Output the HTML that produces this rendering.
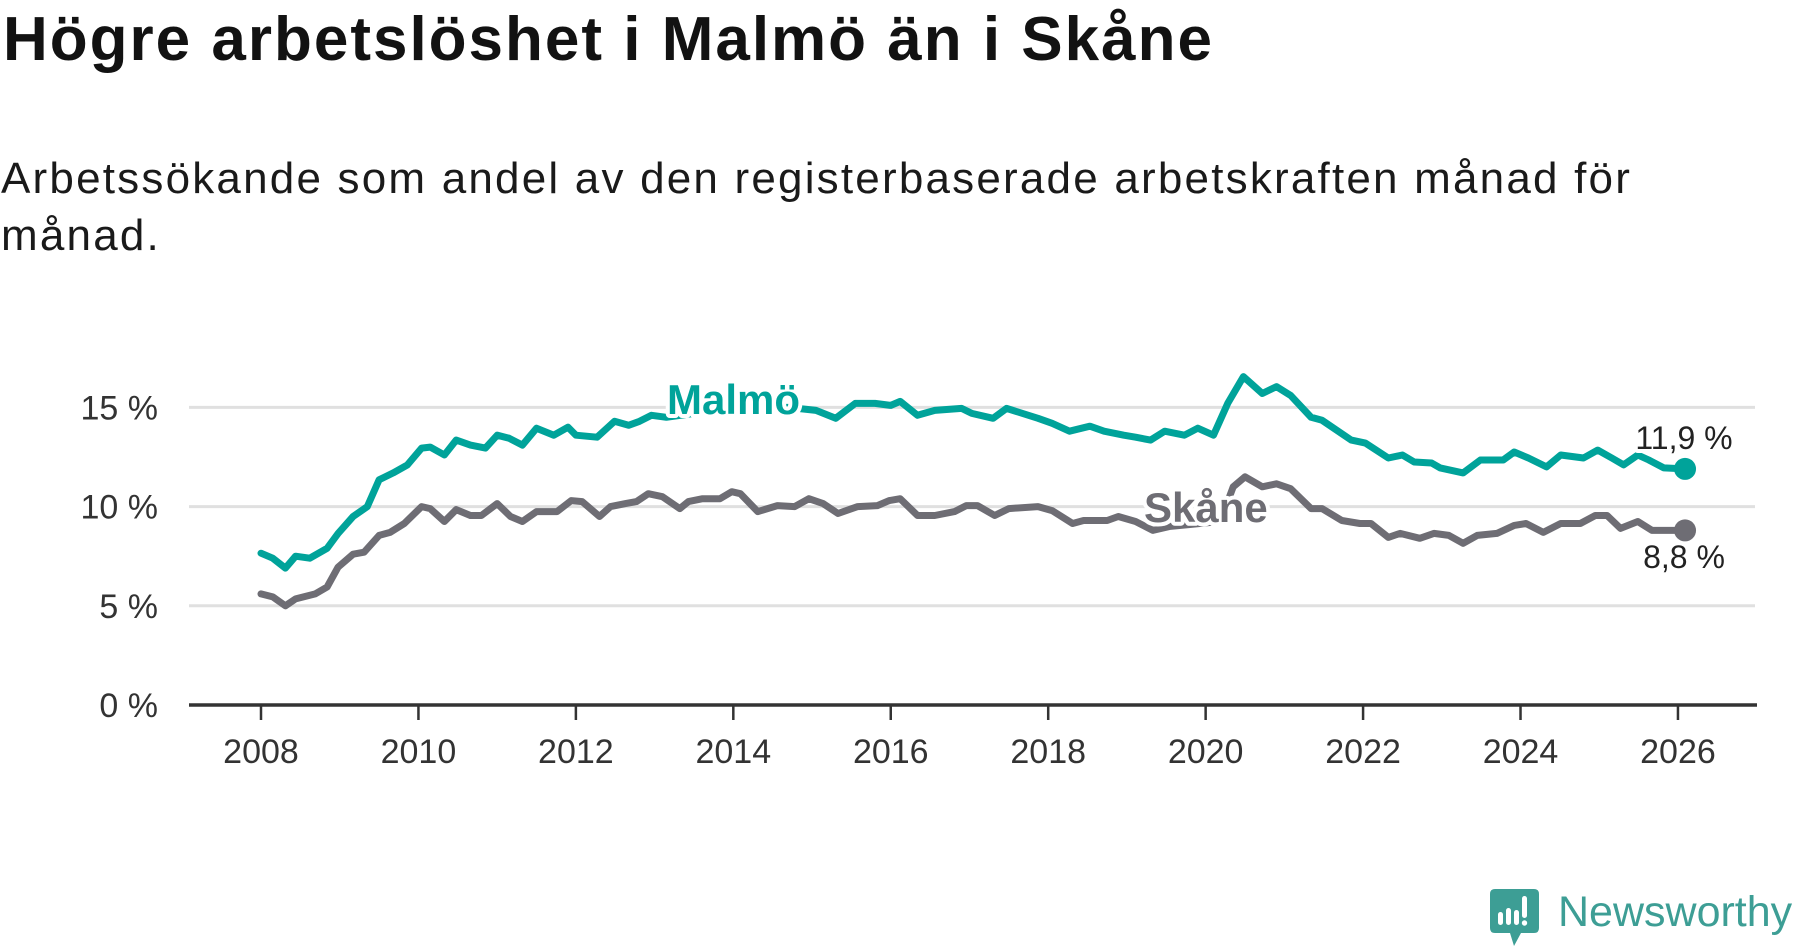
<!DOCTYPE html>
<html><head><meta charset="utf-8">
<style>
html,body{margin:0;padding:0;background:#fff;}
body{width:1800px;height:948px;position:relative;overflow:hidden;font-family:"Liberation Sans",sans-serif;}
#title{position:absolute;left:3px;top:4px;margin:0;font-size:62px;font-weight:bold;color:#121212;letter-spacing:2px;white-space:nowrap;}
#subtitle{position:absolute;left:1px;top:150px;width:1760px;margin:0;font-size:44px;line-height:57px;color:#1a1a1a;letter-spacing:2.2px;}
svg{position:absolute;left:0;top:0;}
</style></head><body>
<h1 id="title">Högre arbetslöshet i Malmö än i Skåne</h1>
<p id="subtitle">Arbetssökande som andel av den registerbaserade arbetskraften månad för<br>månad.</p>
<svg id="chart" width="1800" height="948"></svg>
<script>
const yTicks=[0,5,10,15];
const xTicks=[2008,2010,2012,2014,2016,2018,2020,2022,2024,2026];
const malmoYears=[2008.0,2008.15,2008.31,2008.44,2008.62,2008.84,2008.98,2009.17,2009.35,2009.5,2009.68,2009.86,2010.04,2010.15,2010.33,2010.48,2010.66,2010.85,2011.0,2011.15,2011.32,2011.5,2011.72,2011.9,2012.0,2012.27,2012.49,2012.67,2012.81,2012.96,2013.15,2013.5,2013.9,2014.3,2014.7,2015.05,2015.3,2015.55,2015.8,2016.0,2016.12,2016.34,2016.56,2016.9,2017.03,2017.3,2017.47,2017.87,2018.05,2018.27,2018.53,2018.71,2018.96,2019.11,2019.3,2019.48,2019.73,2019.9,2020.1,2020.28,2020.48,2020.72,2020.9,2021.08,2021.34,2021.48,2021.85,2022.03,2022.32,2022.5,2022.65,2022.87,2022.98,2023.27,2023.49,2023.78,2023.92,2024.1,2024.33,2024.51,2024.8,2024.98,2025.16,2025.31,2025.49,2025.63,2025.82,2026.09];
const malmoValues=[7.65,7.4,6.9,7.5,7.4,7.9,8.65,9.5,10.0,11.35,11.7,12.1,12.95,13.0,12.6,13.35,13.1,12.95,13.6,13.45,13.1,13.95,13.6,14.0,13.6,13.5,14.3,14.1,14.3,14.6,14.5,14.7,14.9,15.0,15.0,14.85,14.45,15.2,15.2,15.1,15.3,14.6,14.85,14.95,14.7,14.45,14.95,14.45,14.2,13.8,14.05,13.8,13.6,13.5,13.35,13.8,13.6,13.95,13.6,15.2,16.55,15.7,16.05,15.6,14.5,14.35,13.35,13.2,12.45,12.6,12.25,12.2,11.95,11.7,12.35,12.35,12.75,12.45,12.0,12.6,12.45,12.85,12.45,12.1,12.6,12.35,11.95,11.9];
const skaneYears=[2008.0,2008.15,2008.31,2008.44,2008.69,2008.84,2008.98,2009.17,2009.31,2009.5,2009.64,2009.82,2010.04,2010.15,2010.33,2010.48,2010.66,2010.8,2011.0,2011.17,2011.32,2011.5,2011.76,2011.94,2012.08,2012.3,2012.44,2012.63,2012.77,2012.92,2013.1,2013.32,2013.43,2013.61,2013.83,2013.98,2014.09,2014.31,2014.56,2014.78,2014.96,2015.14,2015.33,2015.58,2015.83,2015.98,2016.12,2016.34,2016.56,2016.81,2016.96,2017.1,2017.32,2017.5,2017.87,2018.05,2018.31,2018.45,2018.75,2018.89,2019.11,2019.33,2019.55,2019.8,2020.05,2020.2,2020.35,2020.5,2020.72,2020.9,2021.08,2021.34,2021.48,2021.73,2021.96,2022.1,2022.32,2022.47,2022.72,2022.9,2023.09,2023.27,2023.45,2023.7,2023.92,2024.07,2024.29,2024.51,2024.76,2024.95,2025.1,2025.27,2025.49,2025.67,2025.89,2026.09];
const skaneValues=[5.6,5.45,5.0,5.35,5.6,5.95,6.95,7.6,7.7,8.55,8.7,9.15,10.0,9.9,9.25,9.85,9.55,9.55,10.15,9.5,9.25,9.75,9.75,10.3,10.25,9.5,10.0,10.15,10.25,10.65,10.5,9.9,10.25,10.4,10.4,10.75,10.65,9.75,10.05,10.0,10.4,10.15,9.65,10.0,10.05,10.3,10.4,9.55,9.55,9.75,10.05,10.05,9.55,9.9,10.0,9.8,9.15,9.3,9.3,9.5,9.25,8.8,9.0,9.1,9.2,9.4,11.0,11.5,11.0,11.15,10.9,9.9,9.9,9.3,9.15,9.15,8.45,8.65,8.4,8.65,8.55,8.15,8.55,8.65,9.05,9.15,8.7,9.15,9.15,9.55,9.55,8.9,9.25,8.8,8.8,8.8];
const lastMalmo="11,9 %", lastSkane="8,8 %";

const NS="http://www.w3.org/2000/svg";
const svg=document.getElementById('chart');
const X=y=>261+(y-2008)*78.72;
const Y=v=>705-v*19.84;
function mk(tag,attrs,parent){const e=document.createElementNS(NS,tag);for(const k in attrs)e.setAttribute(k,attrs[k]);(parent||svg).appendChild(e);return e;}
const teal="#00a39a", gray="#6e6d74";

yTicks.forEach(t=>{
  if(t>0){
    const g=mk('line',{x1:189,x2:1755,y1:Y(t),y2:Y(t),stroke:'#e0e0e0','stroke-width':3});
    
    
  }
  const l=mk('text',{x:158,y:Y(t)+12,'text-anchor':'end','font-size':34,fill:'#333','font-family':'Liberation Sans, sans-serif'});
  l.textContent=t+' %';
  
  
});
const ax=mk('line',{x1:189,x2:1757,y1:705,y2:705,stroke:'#333','stroke-width':3.5});


xTicks.forEach(t=>{
  const tk=mk('line',{x1:X(t),x2:X(t),y1:705,y2:720,stroke:'#333','stroke-width':2.5});
  
  
  const l=mk('text',{x:X(t),y:763,'text-anchor':'middle','font-size':34,fill:'#333','font-family':'Liberation Sans, sans-serif'});
  l.textContent=t;
  
  
});
function line(years,vals,color,name){
  const d=years.map((y,i)=>(i?'L':'M')+X(y).toFixed(1)+' '+Y(vals[i]).toFixed(1)).join(' ');
  const p=mk('path',{d:d,fill:'none',stroke:color,'stroke-width':7,'stroke-linejoin':'round','stroke-linecap':'round'});
  
  
  const n=years.length-1;
  const c=mk('circle',{cx:X(years[n]),cy:Y(vals[n]),r:11,fill:color});
  
  
}
line(skaneYears,skaneValues,gray,'skane');
line(malmoYears,malmoValues,teal,'malmo');
function label(txt,x,y,color,size,weight,name,anchor){
  const t=mk('text',{x:x,y:y,'font-size':size,'font-weight':weight,fill:color,stroke:'#fff','stroke-width':8,'paint-order':'stroke','stroke-linejoin':'round','text-anchor':anchor||'start','font-family':'Liberation Sans, sans-serif'});
  t.textContent=txt;
  
  
}
label('Malmö',667,414,teal,42,'bold','malmo-series-label');
label('Skåne',1144,522,gray,42,'bold','skane-series-label');
label(lastMalmo,1684,449,'#222',32,'normal','malmo-last-value','middle');
label(lastSkane,1684,568,'#222',32,'normal','skane-last-value','middle');

// logo
const lg=mk('g',{});


mk('path',{d:'M1495 889 H1534 Q1539 889 1539 894 V928 Q1539 933 1534 933 H1521 L1514 946 L1510 933 H1495 Q1490 933 1490 928 V894 Q1490 889 1495 889 Z',fill:'#3d9e95'},lg);
mk('rect',{x:1498,y:912,width:5,height:13,rx:2.5,fill:'#fff'},lg);
mk('rect',{x:1506,y:908,width:5,height:17,rx:2.5,fill:'#fff'},lg);
mk('rect',{x:1514,y:910,width:5,height:15,rx:2.5,fill:'#fff'},lg);
mk('rect',{x:1522,y:896,width:5,height:22,rx:2.5,fill:'#fff'},lg);
mk('circle',{cx:1524.5,cy:923,r:2.7,fill:'#fff'},lg);
const lt=mk('text',{x:1558,y:926,'font-size':43,fill:'#3d9e95','font-family':'Liberation Sans, sans-serif'},lg);
lt.textContent='Newsworthy';


</script>
</body></html>
